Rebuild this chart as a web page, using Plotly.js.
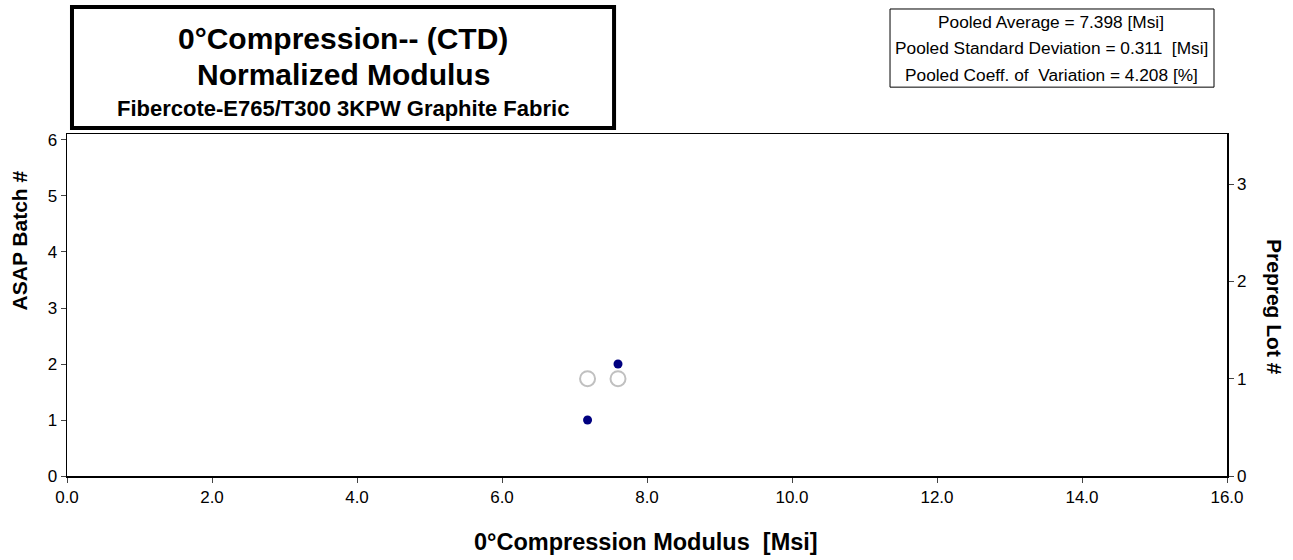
<!DOCTYPE html>
<html><head><meta charset="utf-8">
<script src="https://cdn.plot.ly/plotly-3.0.1.min.js"></script>
<style>html,body{margin:0;padding:0;background:#fff;}#chart{width:1293px;height:560px;}</style>
</head><body><div id="chart"></div>
<script>
// Data
const batchModulus = [7.18, 7.60];
const batchNumber = [1, 2];
const lotModulus = [7.18, 7.60];
const lotNumber = [1, 1];
const xTickVals = [0, 2, 4, 6, 8, 10, 12, 14, 16];
const xTickText = ["0.0","2.0","4.0","6.0","8.0","10.0","12.0","14.0","16.0"];
const statsLines = ["Pooled Average = 7.398 [Msi]", "Pooled Standard Deviation = 0.311  [Msi]", "Pooled Coeff. of  Variation = 4.208 [%]"];

const F = "Arial, 'Liberation Sans', sans-serif";
const traces = [
  {x: lotModulus, y: lotNumber, yaxis: 'y2', mode: 'markers', type: 'scatter',
   marker: {symbol: 'circle-open', size: 15, color: '#c0c0c0', line: {width: 2, color: '#c0c0c0'}}, hoverinfo: 'x+y'},
  {x: batchModulus, y: batchNumber, mode: 'markers', type: 'scatter',
   marker: {symbol: 'circle', size: 9, color: '#000080'}, hoverinfo: 'x+y'}
];
const layout = {
  width: 1293, height: 560, showlegend: false,
  paper_bgcolor: '#fff', plot_bgcolor: '#fff',
  margin: {l: 67, r: 66, t: 134, b: 84, pad: 0},
  font: {family: F, size: 17, color: '#000'},
  xaxis: {range: [0, 16], tickvals: xTickVals, ticktext: xTickText, ticks: 'outside', ticklen: 5,
    showgrid: false, zeroline: false, showline: true, linecolor: '#000', linewidth: 1.5, mirror: true,
    tickfont: {family: F, size: 17}},
  yaxis: {range: [0, 6.107], tickvals: [0,1,2,3,4,5,6], ticks: 'outside', ticklen: 5,
    showgrid: false, zeroline: false, showline: true, linecolor: '#000', linewidth: 1.5,
    tickfont: {family: F, size: 17}},
  yaxis2: {range: [0, 3.515], overlaying: 'y', side: 'right', tickvals: [0,1,2,3], ticks: 'outside', ticklen: 5,
    showgrid: false, zeroline: false, showline: true, linecolor: '#000', linewidth: 1.5,
    tickfont: {family: F, size: 17}},
  shapes: [
    {type: 'rect', xref: 'paper', yref: 'paper', x0: 0.0043, x1: 0.4716, y0: 1.0175, y1: 1.371,
     line: {color: '#000', width: 4}, fillcolor: '#fff', layer: 'above'},
    {type: 'rect', xref: 'paper', yref: 'paper', x0: 0.7095, x1: 0.9888, y0: 1.137, y1: 1.3655,
     line: {color: '#000', width: 1}, fillcolor: '#fff', layer: 'above'}
  ],
  annotations: [
    {text: '<b>0°Compression-- (CTD)</b>', xref: 'paper', yref: 'paper', x: 0.238, y: 1.2807, showarrow: false,
     font: {family: F, size: 30}, xanchor: 'center', yanchor: 'middle'},
    {text: '<b>Normalized Modulus</b>', xref: 'paper', yref: 'paper', x: 0.238, y: 1.1754, showarrow: false,
     font: {family: F, size: 30}, xanchor: 'center', yanchor: 'middle'},
    {text: '<b>Fibercote-E765/T300 3KPW Graphite Fabric</b>', xref: 'paper', yref: 'paper', x: 0.238, y: 1.076, showarrow: false,
     font: {family: F, size: 22}, xanchor: 'center', yanchor: 'middle'},
    {text: statsLines[0], xref: 'paper', yref: 'paper', x: 0.8483, y: 1.3275, showarrow: false,
     font: {family: F, size: 17.3}, xanchor: 'center', yanchor: 'middle'},
    {text: statsLines[1], xref: 'paper', yref: 'paper', x: 0.8483, y: 1.2515, showarrow: false,
     font: {family: F, size: 17.3}, xanchor: 'center', yanchor: 'middle'},
    {text: statsLines[2], xref: 'paper', yref: 'paper', x: 0.8483, y: 1.1725, showarrow: false,
     font: {family: F, size: 17.3}, xanchor: 'center', yanchor: 'middle'},
    {text: '<b>ASAP Batch #</b>', xref: 'paper', yref: 'paper', x: -0.041, y: 0.69, showarrow: false,
     textangle: -90, font: {family: F, size: 21}, xanchor: 'center', yanchor: 'middle'},
    {text: '<b>Prepreg Lot #</b>', xref: 'paper', yref: 'paper', x: 1.0414, y: 0.494, showarrow: false,
     textangle: 90, font: {family: F, size: 21}, xanchor: 'center', yanchor: 'middle'},
    {text: '<b>0°Compression Modulus  [Msi]</b>', xref: 'paper', yref: 'paper', x: 0.4991, y: -0.193, showarrow: false,
     font: {family: F, size: 23.5}, xanchor: 'center', yanchor: 'middle'}
  ]
};
Plotly.newPlot('chart', traces, layout, {displayModeBar: false, staticPlot: true});
</script></body></html>
